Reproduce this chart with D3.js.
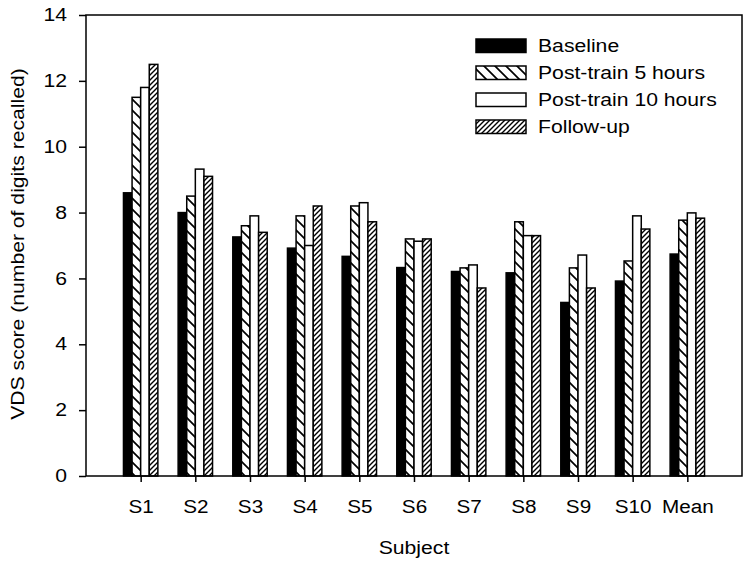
<!DOCTYPE html>
<html><head><meta charset="utf-8">
<script src="https://cdn.jsdelivr.net/npm/d3@7"></script>
<style>body{margin:0;background:#fff}svg{display:block}text{font-family:"Liberation Sans",Arial,sans-serif}</style>
</head><body>
<svg id="c" width="751" height="566"></svg>
<script>
const categories = ["S1","S2","S3","S4","S5","S6","S7","S8","S9","S10","Mean"];
const seriesNames = ["Baseline","Post-train 5 hours","Post-train 10 hours","Follow-up"];
const baseline = [8.6, 8.0, 7.26, 6.92, 6.67, 6.33, 6.21, 6.17, 5.27, 5.92, 6.74];
const post5    = [11.5, 8.5, 7.6, 7.9, 8.2, 7.2, 6.32, 7.72, 6.32, 6.53, 7.77];
const post10   = [11.8, 9.32, 7.9, 7.0, 8.3, 7.13, 6.41, 7.3, 6.71, 7.9, 7.99];
const followUp = [12.5, 9.1, 7.4, 8.2, 7.72, 7.2, 5.71, 7.3, 5.71, 7.5, 7.83];
const yTicks = [0,2,4,6,8,10,12,14];
const series = [baseline, post5, post10, followUp];

const SX = 1.21; // horizontal stretch of the reference text
const FS = "17.5px";

const svg = d3.select("#c");
const defs = svg.append("defs");
// backslash hatch
const p1 = defs.append("pattern").attr("id","hatchB").attr("patternUnits","userSpaceOnUse")
  .attr("width",11).attr("height",11);
p1.append("rect").attr("width",11).attr("height",11).attr("fill","#fff");
p1.append("path").attr("d","M-1,-1L12,12M-6,5L6,17M5,-6L17,6").attr("stroke","#000").attr("stroke-width",1.7);
// forward slash dense hatch
const p2 = defs.append("pattern").attr("id","hatchF").attr("patternUnits","userSpaceOnUse")
  .attr("width",5).attr("height",5);
p2.append("rect").attr("width",5).attr("height",5).attr("fill","#fff");
p2.append("path").attr("d","M-1,6L6,-1M-1,1L1,-1M4,6L6,4").attr("stroke","#000").attr("stroke-width",1.4);
const fills = ["#000","url(#hatchB)","#fff","url(#hatchF)"];

const mLeft=86, mRight=742, mTop=15, mBottom=476;
const x = d3.scaleLinear().domain([0,12]).range([mLeft,mRight]);
const y = d3.scaleLinear().domain([0,14]).range([mBottom,mTop]);
const bw = 8.6;

const g = svg.append("g");
categories.forEach((c,i)=>{
  const cx = x(i+1);
  series.forEach((s,j)=>{
    g.append("rect")
      .attr("x", cx - 2*bw + j*bw)
      .attr("y", y(s[i]))
      .attr("width", bw)
      .attr("height", y(0)-y(s[i]))
      .attr("fill", fills[j])
      .attr("stroke","#000").attr("stroke-width",1.5);
  });
});

// frame
svg.append("rect").attr("x",mLeft).attr("y",mTop).attr("width",mRight-mLeft).attr("height",mBottom-mTop)
  .attr("fill","none").attr("stroke","#000").attr("stroke-width",1.5);

// y axis
const ya = svg.append("g").attr("transform",`translate(${mLeft},0)`)
  .call(d3.axisLeft(y).tickValues(yTicks).tickSize(7).tickPadding(12).tickFormat(d3.format("d")));
ya.select(".domain").remove();
ya.selectAll("line").attr("stroke","#000").attr("stroke-width",1.5);
ya.selectAll("text").attr("font-size",FS).attr("fill","#000")
  .attr("font-family","Liberation Sans, Arial, sans-serif")
  .attr("x", -19/SX).attr("transform",`scale(${SX},1)`);

// x axis
const xa = svg.append("g").attr("transform",`translate(0,${mBottom})`)
  .call(d3.axisBottom(x).tickValues(d3.range(1,12)).tickSize(6).tickPadding(17.5).tickFormat(d=>categories[d-1]));
xa.select(".domain").remove();
xa.selectAll("line").attr("stroke","#000").attr("stroke-width",1.5);
xa.selectAll("text").attr("font-size","18.8px").attr("fill","#000")
  .attr("font-family","Liberation Sans, Arial, sans-serif")
  .attr("transform",`scale(1.1,1)`);

// axis titles
svg.append("text").attr("transform",`translate(414,554) scale(${SX},1)`).attr("text-anchor","middle")
  .attr("font-size",FS).text("Subject");
svg.append("text").attr("transform",`translate(24,244) rotate(-90) scale(${SX},1)`).attr("text-anchor","middle")
  .attr("font-size",FS).text("VDS score (number of digits recalled)");

// legend
const lg = svg.append("g");
seriesNames.forEach((n,j)=>{
  const yy = 39 + j*27;
  lg.append("rect").attr("x",476).attr("y",yy).attr("width",50).attr("height",13.5)
    .attr("fill",fills[j]).attr("stroke","#000").attr("stroke-width",1.5);
  lg.append("text").attr("transform",`translate(538,${yy+13}) scale(${SX},1)`).attr("font-size",FS).text(n);
});
</script>
</body></html>
